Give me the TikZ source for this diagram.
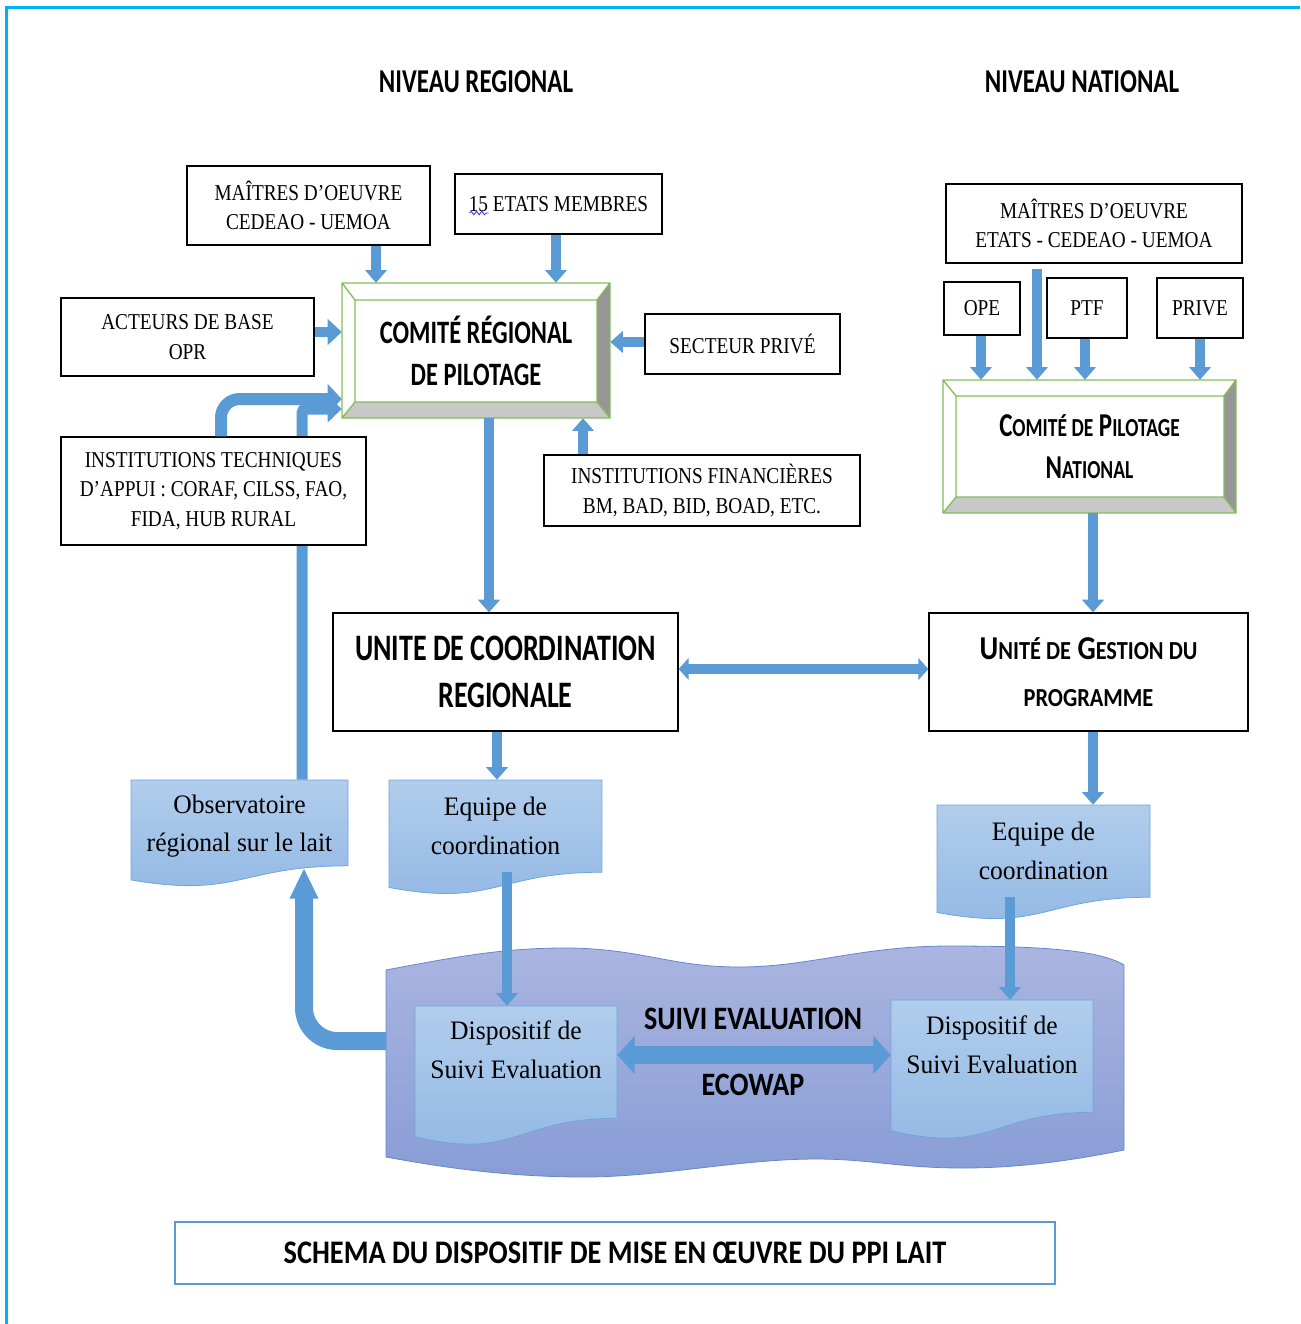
\documentclass[tikz,border=0pt]{standalone}
\usepackage{fontspec}
\setmainfont{Liberation Serif}
\newfontfamily\bxf[FakeStretch=0.85]{Liberation Serif}
\newfontfamily\dcf[FakeStretch=0.96]{Liberation Serif}
\newfontfamily\cbn[FakeStretch=0.75]{Carlito}
\newfontfamily\cbw[FakeStretch=0.86]{Carlito}
\usetikzlibrary{arrows.meta,decorations.pathmorphing}
\pgfdeclarelayer{back}
\pgfsetlayers{back,main}
\definecolor{cyanf}{RGB}{0,176,240}
\definecolor{ablue}{RGB}{91,155,213}
\definecolor{grn}{RGB}{130,190,90}
\definecolor{bevL}{RGB}{200,200,200}
\definecolor{bevD}{RGB}{150,150,150}
\definecolor{docT}{RGB}{177,205,236}
\definecolor{docB}{RGB}{146,184,228}
\definecolor{docL}{RGB}{110,165,220}
\definecolor{wavT}{RGB}{170,181,224}
\definecolor{wavB}{RGB}{136,157,214}
\definecolor{wavL}{RGB}{100,135,205}
\newcommand\smc[1]{{\fontsize{19.5pt}{33pt}\selectfont #1}}
\newcommand\docshape[7]{%
  \pgfmathsetmacro\dA{#4+0.802*#5}%
  \pgfmathsetmacro\dB{#4+0.934*#5}%
  \pgfmathsetmacro\dC{#4+1.107*#5}%
  \pgfmathsetmacro\dM{(#2+#3)/2}%
  \path[docfill] (#2,#4) -- (#3,#4) -- (#3,\dA) .. controls (\dM,\dA) and (\dM,\dC) .. (#2,\dB) -- cycle;
  \pgfmathsetmacro\dH{2*(#6-#4)}%
  \pgfmathsetmacro\dW{#3-#2}%
  \node[doctext, minimum width=\dW*0.75pt, minimum height=\dH*0.75pt] (#1) at (\dM,#6) {#7};
}
\begin{document}
\begin{tikzpicture}[x=0.75pt,y=-0.75pt,
  bb/.style n args={4}{minimum width={(#3-#1)*0.75pt}, minimum height={(#4-#2)*0.75pt}, at={({(#1+#3)/2},{(#2+#4)/2})}},
  box/.style={draw=black, line width=0.9pt, fill=white, inner sep=0pt, align=center, font=\bxf\fontsize{17pt}{22pt}\selectfont},
  tbox/.style={draw=black, line width=0.9pt, fill=white, inner sep=0pt, align=center, font=\cbn\bfseries\fontsize{28pt}{35pt}\selectfont},
  cbox/.style={inner sep=0pt, align=center, font=\cbn\bfseries\fontsize{24.5pt}{31.5pt}\selectfont},
  ttl/.style={inner sep=0pt, font=\cbn\bfseries\fontsize{25pt}{30pt}\selectfont},
  doctext/.style={inner sep=0pt, align=center, font=\dcf\fontsize{20pt}{29pt}\selectfont},
  lbl/.style={inner sep=0pt, font=\cbw\bfseries\fontsize{24.5pt}{30pt}\selectfont},
  capbox/.style={draw=ablue, line width=1.5pt, inner sep=0pt, font=\cbw\bfseries\fontsize{24.7pt}{28pt}\selectfont},
  docfill/.style={top color=docT, bottom color=docB, draw=docL, line width=0.6pt},
  wavefill/.style={top color=wavT, bottom color=wavB, draw=wavL, line width=0.6pt},
  bevel/.style={draw=grn, line width=1pt},
  arr/.style={draw=ablue, line width=7pt, -{Triangle[width=16pt,length=9.5pt]}},
  arrS/.style={draw=ablue, line width=7.5pt, -{Triangle[width=19pt,length=10.5pt]}},
  arrA/.style={draw=ablue, line width=9pt, -{Triangle[width=22pt,length=10.5pt]}},
  arrB/.style={draw=ablue, line width=8.25pt, -{Triangle[width=19.5pt,length=10.5pt]}},
  arrW/.style={draw=ablue, line width=13.5pt, -{Triangle[width=20pt,length=23pt]}},
  dblN/.style={draw=ablue, line width=7pt, {Triangle[width=16pt,length=7.5pt]}-{Triangle[width=16pt,length=7.5pt]}},
  dblW/.style={draw=ablue, line width=14pt, {Triangle[width=28pt,length=13pt]}-{Triangle[width=28pt,length=13pt]}}
]
\useasboundingbox (0,0) rectangle (1300,1324);
\draw[cyanf, line width=2.25pt] (6,1324) -- (6,7) -- (1300,7);

% titles
\node[ttl] (nr) at (476,82) {NIVEAU REGIONAL};
\node[ttl] (nn) at (1082,82) {NIVEAU NATIONAL};

% regional comite (bevel)
\fill[white] (342,283) rectangle (610,418);
\fill[bevL] (342,418) -- (610,418) -- (597,402) -- (355,402) -- cycle;
\fill[bevD] (610,283) -- (610,418) -- (597,402) -- (597,300) -- cycle;
\draw[bevel] (342,283) rectangle (610,418) (355,300) rectangle (597,402)
  (342,283) -- (355,300) (610,283) -- (597,300) (342,418) -- (355,402) (610,418) -- (597,402);
\node[cbox, bb={342}{283}{610}{418}] (crp) {COMITÉ RÉGIONAL\\DE PILOTAGE};

% national comite (bevel)
\fill[white] (943,380) rectangle (1236,513);
\fill[bevL] (943,513) -- (1236,513) -- (1224,497) -- (956,497) -- cycle;
\fill[bevD] (1236,380) -- (1236,513) -- (1224,497) -- (1224,396) -- cycle;
\draw[bevel] (943,380) rectangle (1236,513) (956,396) rectangle (1224,497)
  (943,380) -- (956,396) (1236,380) -- (1224,396) (943,513) -- (956,497) (1236,513) -- (1224,497);
\node[cbox, font=\cbn\bfseries\fontsize{25pt}{31.5pt}\selectfont, bb={943}{380}{1236}{513}] (cpn) {C\smc{OMITÉ DE} P\smc{ILOTAGE}\\N\smc{ATIONAL}};

% wave shape
\path[wavefill] (386,970) .. controls (450,958) and (500,948) .. (564,948)
  .. controls (640,948) and (670,967) .. (739,967)
  .. controls (810,967) and (860,946) .. (950,946)
  .. controls (1040,946) and (1100,950) .. (1124,965)
  -- (1124,1150)
  .. controls (1060,1163) and (1010,1168) .. (962,1168)
  .. controls (900,1168) and (870,1159) .. (816,1159)
  .. controls (740,1159) and (660,1177) .. (584,1177)
  .. controls (500,1177) and (430,1165) .. (386,1157) -- cycle;
\coordinate (waveL) at (386,1041);

% document shapes
\docshape{obs}{131}{348}{780}{107}{826}{Observatoire\\régional sur le lait}
\docshape{eqR}{389}{602}{780}{115}{826}{Equipe de\\coordination}
\docshape{eqN}{937}{1150}{805}{115}{851}{Equipe de\\coordination}
\docshape{dispR}{415}{617}{1006}{140}{1050}{Dispositif de\\Suivi Evaluation}
\docshape{dispN}{891}{1093}{1000}{140}{1045}{Dispositif de\\Suivi Evaluation}
\coordinate (obsB) at (304,868);

% boxes
\node[box, bb={187}{166}{430}{245}] (mo1) {MAÎTRES D’OEUVRE\\CEDEAO - UEMOA};
\node[box, bb={455}{174}{662}{234}] (etats) {15 ETATS MEMBRES};
\node[box, bb={61}{298}{314}{376}] (act) {ACTEURS DE BASE\\OPR};
\node[box, bb={645}{314}{840}{374}] (sp) {SECTEUR PRIVÉ};
\node[box, bb={544}{455}{860}{526}] (instF) {INSTITUTIONS FINANCIÈRES\\BM, BAD, BID, BOAD, ETC.};
\node[box, bb={61}{437}{366}{545}] (instT) {INSTITUTIONS TECHNIQUES\\D’APPUI : CORAF, CILSS, FAO,\\FIDA, HUB RURAL};
\node[tbox, bb={333}{613}{678}{731}] (ucr) {UNITE DE COORDINATION\\REGIONALE};
\node[box, bb={946}{184}{1242}{263}] (moN) {MAÎTRES D’OEUVRE\\ETATS - CEDEAO - UEMOA};
\node[box, bb={944}{282}{1020}{335}] (ope) {OPE};
\node[box, bb={1047}{278}{1127}{338}] (ptf) {PTF};
\node[box, bb={1157}{278}{1243}{338}] (prive) {PRIVE};
\node[tbox, font=\cbw\bfseries\fontsize{25pt}{35pt}\selectfont, bb={929}{613}{1248}{731}] (ugp) {U\smc{NITÉ DE} G\smc{ESTION DU}\\\smc{PROGRAMME}};
\draw[blue!75!white, line width=0.7pt, decorate, decoration={snake, amplitude=1.3pt, segment length=4pt}]
  ([shift={(-89,9)}]etats.center) -- ([shift={(-70,9)}]etats.center);

% labels in wave
\node[lbl] (se1) at (753,1019) {SUIVI EVALUATION};
\node[lbl] (se2) at (753,1085) {ECOWAP};

% caption
\node[capbox, bb={175}{1222}{1055}{1284}] (cap) {SCHEMA DU DISPOSITIF DE MISE EN ŒUVRE DU PPI LAIT};

% connectors
\begin{pgfonlayer}{back}
\draw[arrB, rounded corners=3pt] ([shift={(62.5,0)}]obs.north) |- ([shift={(0,58.5)}]crp.west);
\end{pgfonlayer}
\draw[arrA, rounded corners=14pt] ([shift={(7.5,0)}]instT.north) |- ([shift={(0,48.5)}]crp.west);
\draw[arr] ([shift={(67.5,0)}]mo1.south) -- ([shift={(-100,0)}]crp.north);
\draw[arr] ([shift={(-2.5,0)}]etats.south) -- ([shift={(80,0)}]crp.north);
\draw[arrS] ([shift={(0,-5)}]act.east) -- ([shift={(0,-18.5)}]crp.west);
\draw[arr] ([shift={(0,-2)}]sp.west) -- ([shift={(0,-8.5)}]crp.east);
\draw[arr] ([shift={(-119,0)}]instF.north) -- ([shift={(107,0)}]crp.south);
\draw[arr] ([shift={(13,0)}]crp.south) -- ([shift={(-16.5,0)}]ucr.north);
\draw[arr] ([shift={(-8.5,0)}]ucr.south) -- ([shift={(1.5,0)}]eqR.north);
\draw[arr] ([shift={(11.5,0)}]eqR.south) -- ([shift={(-9,0)}]dispR.north);
\draw[arrW, rounded corners=25pt] (waveL) -| (obsB);
\draw[dblN] ([shift={(0,-3)}]ucr.east) -- ([shift={(0,-3)}]ugp.west);
\draw[arr] ([shift={(3.5,0)}]cpn.south) -- ([shift={(4.5,0)}]ugp.north);
\draw[arr] ([shift={(4.5,0)}]ugp.south) -- ([shift={(49.5,0)}]eqN.north);
\draw[arr] ([shift={(-33.5,0)}]eqN.south) -- ([shift={(18,0)}]dispN.north);
\draw[dblW] ([shift={(0,5)}]dispR.east) -- ([shift={(0,10)}]dispN.west);
\draw[arr] ([shift={(-1,0)}]ope.south) -- ([shift={(-108.5,0)}]cpn.north);
\draw[arr, line width=8pt] ([shift={(-57,5)}]moN.south) -- ([shift={(-52.5,0)}]cpn.north);
\draw[arr] ([shift={(-2,0)}]ptf.south) -- ([shift={(-4.5,0)}]cpn.north);
\draw[arr] (prive.south) -- ([shift={(110.5,0)}]cpn.north);
\end{tikzpicture}
\end{document}
